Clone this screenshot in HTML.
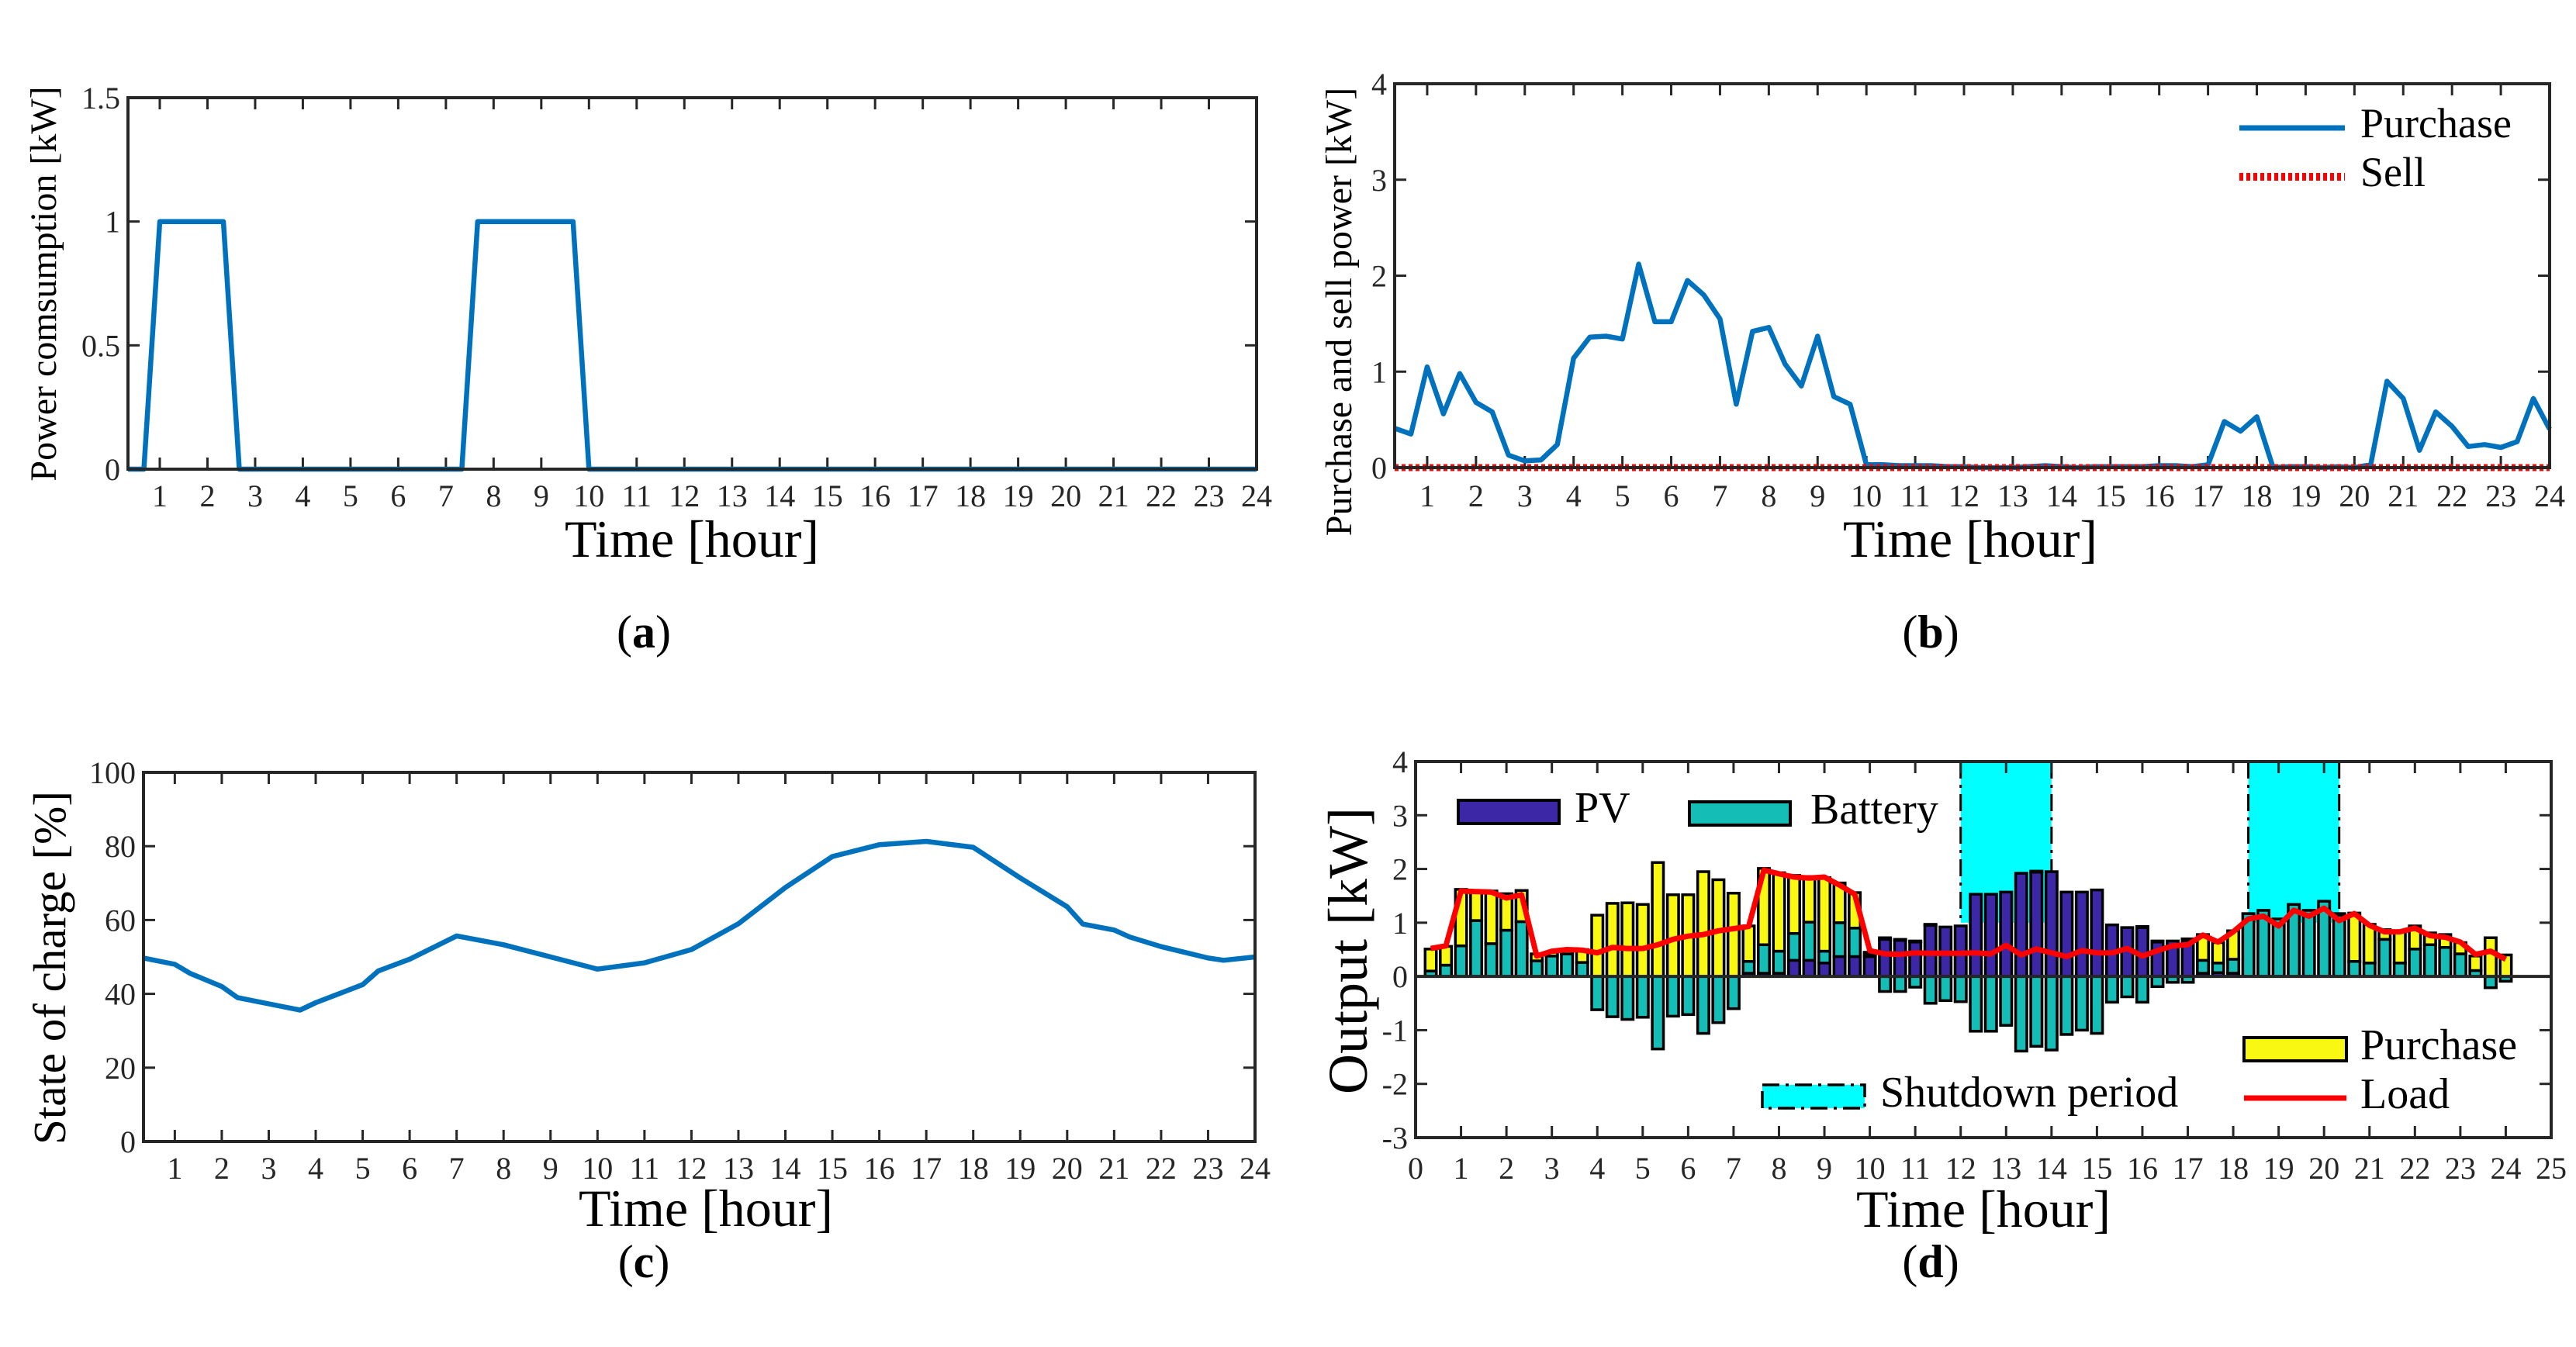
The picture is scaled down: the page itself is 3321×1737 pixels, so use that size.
<!DOCTYPE html>
<html><head><meta charset="utf-8">
<style>
html,body{margin:0;padding:0;background:#fff;}
svg{display:block;font-family:"Liberation Serif","Times New Roman",serif;}
</style></head>
<body>
<svg id="fig" width="3321" height="1737" viewBox="0 0 3321 1737" xmlns="http://www.w3.org/2000/svg">
<rect x="0" y="0" width="3321" height="1737" fill="#fff"/>
<g id="pa"></g>
<g id="pb"></g>
<g id="pc"></g>
<g id="pd"></g>

<text x="892" y="718" font-size="68" text-anchor="middle">Time [hour]</text>
<text transform="translate(72,366) rotate(-90)" font-size="48" text-anchor="middle">Power comsumption [kW]</text>
<text x="2540" y="718" font-size="68" text-anchor="middle">Time [hour]</text>
<text transform="translate(1742,402) rotate(-90)" font-size="48" text-anchor="middle">Purchase and sell power [kW]</text>
<text x="910" y="1581" font-size="68" text-anchor="middle">Time [hour]</text>
<text transform="translate(84,1248) rotate(-90)" font-size="59" text-anchor="middle">State of charge [%]</text>
<text x="2557" y="1582" font-size="68" text-anchor="middle">Time [hour]</text>
<text transform="translate(1762,1226) rotate(-90)" font-size="72" text-anchor="middle">Output [kW]</text>

<text x="830" y="835" font-size="60" text-anchor="middle">(<tspan font-weight="bold">a</tspan>)</text>
<text x="2489" y="835" font-size="60" text-anchor="middle">(<tspan font-weight="bold">b</tspan>)</text>
<text x="830" y="1647" font-size="60" text-anchor="middle">(<tspan font-weight="bold">c</tspan>)</text>
<text x="2489" y="1647" font-size="60" text-anchor="middle">(<tspan font-weight="bold">d</tspan>)</text>

<g>
<line x1="2887" y1="165" x2="3023" y2="165" stroke="#0072BD" stroke-width="7"/>
<text x="3043" y="177" font-size="54">Purchase</text>
<line x1="2887" y1="228" x2="3023" y2="228" stroke="#FF0000" stroke-width="10" stroke-dasharray="5 4"/>
<text x="3043" y="240" font-size="54">Sell</text>
</g>
</svg>
<script>
var NS="http://www.w3.org/2000/svg";
var hours=[];for(var k=1;k<=72;k++){hours.push(k/3);}
var tickHours=[1,2,3,4,5,6,7,8,9,10,11,12,13,14,15,16,17,18,19,20,21,22,23,24];
var powerValues=[0,0,1,1,1,1,1,0,0,0,0,0,0,0,0,0,0,0,0,0,0,0,1,1,1,1,1,1,1,0,0,0,0,0,0,0,0,0,0,0,0,0,0,0,0,0,0,0,0,0,0,0,0,0,0,0,0,0,0,0,0,0,0,0,0,0,0,0,0,0,0,0];
var powerYTicks=[0,0.5,1,1.5];
var powerYLabels=["0","0.5","1","1.5"];
var purchaseValues=[0.41,0.35,1.05,0.56,0.98,0.68,0.58,0.13,0.07,0.08,0.24,1.14,1.36,1.37,1.34,2.12,1.52,1.52,1.95,1.8,1.55,0.66,1.42,1.46,1.08,0.85,1.37,0.74,0.66,0.03,
0.03,0.02,0.02,0.02,0.01,0.01,0,0,0,0.01,0.02,0.01,0,0.01,0.01,0.01,0.01,0.02,0.02,0.01,
0.03,0.48,0.38,0.53,0,0.01,0.01,0,0.01,0,0.03,0.9,0.72,0.18,0.58,0.43,0.22,0.24,0.21,0.27,0.72,0.4];
var sellValues=[0,0,0,0,0,0,0,0,0,0,0,0,0,0,0,0,0,0,0,0,0,0,0,0,0,0,0,0,0,0,0,0,0,0,0,0,0,0,0,0,0,0,0,0,0,0,0,0,0,0,0,0,0,0,0,0,0,0,0,0,0,0,0,0,0,0,0,0,0,0,0,0];
var bYTicks=[0,1,2,3,4];
var socHours=[0.333,1,1.333,2,2.333,3,3.667,4,5,5.333,6,7,8,9,10,11,12,13,14,15,16,17,18,19,20,20.333,21,21.333,22,23,23.333,24];
var socValues=[49.7,48,45.5,42,39,37.3,35.6,37.6,42.5,46.2,49.4,55.7,53.3,50,46.7,48.4,52,59,68.8,77.2,80.4,81.3,79.7,71.4,63.6,58.9,57.3,55.4,52.8,49.7,49.1,50];
var socYTicks=[0,20,40,60,80,100];
var pvValues=[0,0,0,0,0,0,0,0,0,0,0,0,0,0,0,0,0,0,0,0,0,0.06,0.06,0.06,0.3,0.3,0.25,0.37,0.37,0.37,0.69,0.67,0.64,0.95,0.92,0.94,1.53,1.53,1.57,1.92,1.94,1.95,1.57,1.57,1.61,0.96,0.91,0.91,0.64,0.66,0.67,0.06,0.07,0.06,0,0,0,0,0,0,0,0,0,0,0,0,0,0,0,0,0,0];
var batteryValues=[0.1,0.21,0.57,1.04,0.61,0.86,1.02,0.29,0.38,0.42,0.26,-0.62,-0.75,-0.8,-0.76,-1.35,-0.74,-0.71,-1.06,-0.86,-0.6,0.22,0.53,0.41,0.5,0.71,0.22,0.63,0.53,0.05,-0.28,-0.28,-0.2,-0.5,-0.45,-0.47,-1.02,-1.02,-0.91,-1.39,-1.3,-1.37,-1.08,-1.0,-1.06,-0.48,-0.38,-0.48,-0.19,-0.11,-0.11,0.24,0.18,0.26,1.17,1.23,1.07,1.34,1.23,1.4,1.14,0.28,0.25,0.69,0.25,0.51,0.59,0.54,0.42,0.11,-0.21,-0.09];
var loadValues=[0.52,0.57,1.59,1.58,1.57,1.46,1.52,0.38,0.47,0.5,0.49,
0.44,0.54,0.52,0.52,0.59,0.69,0.75,0.78,0.85,0.89,0.93,1.98,1.91,1.85,1.83,1.85,1.7,1.53,0.48,0.42,0.41,0.44,0.43,0.43,0.43,0.44,
0.42,0.58,0.4,0.51,0.44,0.37,0.48,0.44,0.44,0.52,0.38,0.48,0.57,0.59,0.77,0.64,0.83,1.07,1.12,0.94,1.23,1.12,1.27,1.04,1.17,0.95,0.83,0.83,0.9,0.76,0.73,0.64,0.41,0.47,0.32];
var shutdownStart=[12,18.333];
var shutdownEnd=[14,20.333];
var dXTicks=[0,1,2,3,4,5,6,7,8,9,10,11,12,13,14,15,16,17,18,19,20,21,22,23,24,25];
var dYTicks=[-3,-2,-1,0,1,2,3,4];

function mk(tag,attrs,parent){var e=document.createElementNS(NS,tag);for(var a in attrs){e.setAttribute(a,attrs[a]);}parent.appendChild(e);return e;}
function scale(d0,d1,r0,r1){return function(v){return r0+(v-d0)/(d1-d0)*(r1-r0);};}
function axes(g,c,name){
  var sx=scale(c.xmin,c.xmax,c.L,c.R), sy=scale(c.ymin,c.ymax,c.B,c.T);
  var i,el;
  for(i=0;i<c.xt.length;i++){
    var x=sx(c.xt[i]);
    el=mk('line',{x1:x,y1:c.B,x2:x,y2:c.B-15,stroke:'#262626','stroke-width':3},g);
    
    
    el=mk('line',{x1:x,y1:c.T,x2:x,y2:c.T+15,stroke:'#262626','stroke-width':3},g);
    
    
    el=mk('text',{x:x,y:c.tickY,'font-size':c.fs,'text-anchor':'middle',fill:'#262626'},g);
    el.textContent=String(c.xt[i]);
    
    
  }
  for(i=0;i<c.yt.length;i++){
    var y=sy(c.yt[i]);
    el=mk('line',{x1:c.L,y1:y,x2:c.L+15,y2:y,stroke:'#262626','stroke-width':3},g);
    
    
    el=mk('line',{x1:c.R,y1:y,x2:c.R-15,y2:y,stroke:'#262626','stroke-width':3},g);
    
    
    el=mk('text',{x:c.L-10,y:y+14,'font-size':c.fs,'text-anchor':'end',fill:'#262626'},g);
    el.textContent=c.ytl?c.ytl[i]:String(c.yt[i]);
    
    
  }
  return {sx:sx,sy:sy};
}
function box(g,c,name){
  var el=mk('rect',{x:c.L,y:c.T,width:c.R-c.L,height:c.B-c.T,fill:'none',stroke:'#262626','stroke-width':4},g);
  
  
}
function linePath(xs,ys,sx,sy){var d='';for(var i=0;i<xs.length;i++){d+=(i?'L':'M')+sx(xs[i]).toFixed(1)+','+sy(ys[i]).toFixed(1);}return d;}

(function(){
  var g=document.getElementById('pa');
  var c={L:165,R:1620,T:126,B:605,xmin:1/3,xmax:24,ymin:0,ymax:1.5,xt:tickHours,yt:powerYTicks,ytl:powerYLabels,tickY:653,fs:40};
  var s=axes(g,c,'panel-a');
  var p=mk('path',{d:linePath(hours,powerValues,s.sx,s.sy),fill:'none',stroke:'#0072BD','stroke-width':6.5,'stroke-linejoin':'round'},g);
  
  
  box(g,c,'panel-a');
})();

(function(){
  var g=document.getElementById('pb');
  var c={L:1798,R:3287,T:108,B:603,xmin:1/3,xmax:24,ymin:0,ymax:4,xt:tickHours,yt:bYTicks,tickY:653,fs:40};
  var s=axes(g,c,'panel-b');
  var p=mk('path',{d:linePath(hours,purchaseValues,s.sx,s.sy),fill:'none',stroke:'#0072BD','stroke-width':6.5,'stroke-linejoin':'round'},g);
  
  
  var q=mk('path',{d:linePath(hours,sellValues,s.sx,s.sy),fill:'none',stroke:'#FF0000','stroke-width':9,'stroke-dasharray':'5 4'},g);
  
  
  box(g,c,'panel-b');
})();

(function(){
  var g=document.getElementById('pc');
  var c={L:185,R:1618,T:996,B:1472,xmin:1/3,xmax:24,ymin:0,ymax:100,xt:tickHours,yt:socYTicks,tickY:1520,fs:40};
  var s=axes(g,c,'panel-c');
  var p=mk('path',{d:linePath(socHours,socValues,s.sx,s.sy),fill:'none',stroke:'#0072BD','stroke-width':6.5,'stroke-linejoin':'round'},g);
  
  
  box(g,c,'panel-c');
})();

(function(){
  var g=document.getElementById('pd');
  var c={L:1825,R:3289,T:982,B:1467,xmin:0,xmax:25,ymin:-3,ymax:4,xt:dXTicks,yt:dYTicks,tickY:1520,fs:40};
  var sx=scale(c.xmin,c.xmax,c.L,c.R), sy=scale(c.ymin,c.ymax,c.B,c.T);
  var i,el;
  for(i=0;i<shutdownStart.length;i++){
    var x0=sx(shutdownStart[i]),x1=sx(shutdownEnd[i]);
    el=mk('rect',{x:x0,y:c.T,width:x1-x0,height:sy(1)-c.T,fill:'#00FFFF'},g);
    
    
    el=mk('line',{x1:x0,y1:c.T,x2:x0,y2:sy(1),stroke:'#000','stroke-width':3,'stroke-dasharray':'22 8 4 8'},g);
    
    
    el=mk('line',{x1:x1,y1:c.T,x2:x1,y2:sy(1),stroke:'#000','stroke-width':3,'stroke-dasharray':'22 8 4 8'},g);
    
    
  }
  var s=axes(g,c,'panel-d');
  var bw=(sx(1/3)-sx(0))*0.74;
  function seg(xc,a,b,fill,name){
    var y0=sy(Math.max(a,b)),y1=sy(Math.min(a,b));
    var r=mk('rect',{x:xc-bw/2,y:y0,width:bw,height:Math.max(y1-y0,0.5),fill:fill,stroke:'#000','stroke-width':3.5},g);
    
    
  }
  for(i=0;i<hours.length;i++){
    var xc=sx(hours[i]);var base=0;
    if(pvValues[i]>0){seg(xc,base,base+pvValues[i],'#3C28A6','bar-pv');base+=pvValues[i];}
    if(batteryValues[i]>0){seg(xc,base,base+batteryValues[i],'#14BDB5','bar-battery');base+=batteryValues[i];}
    else if(batteryValues[i]<0){seg(xc,0,batteryValues[i],'#14BDB5','bar-battery-charge');}
    if(purchaseValues[i]>0.015){seg(xc,base,base+purchaseValues[i],'#F8F812','bar-purchase');}
  }
  el=mk('line',{x1:c.L,y1:sy(0),x2:c.R,y2:sy(0),stroke:'#262626','stroke-width':4},g);
  
  
  var p=mk('path',{d:linePath(hours,loadValues,sx,sy),fill:'none',stroke:'#FF0000','stroke-width':7,'stroke-linejoin':'round'},g);
  
  
  box(g,c,'panel-d');
})();

(function(){
  var svg=document.getElementById('fig');
  var g=document.createElementNS(NS,'g');
  
  
  svg.appendChild(g);
  g.innerHTML=
  '<rect x="1880" y="1032" width="130" height="30" fill="#3C28A6" stroke="#000" stroke-width="4"/>'+
  '<text x="2030" y="1060" font-size="56">PV</text>'+
  '<rect x="2178" y="1034" width="130" height="30" fill="#14BDB5" stroke="#000" stroke-width="4"/>'+
  '<text x="2334" y="1062" font-size="56">Battery</text>'+
  '<rect x="2893" y="1338" width="132" height="30" fill="#F8F812" stroke="#000" stroke-width="4"/>'+
  '<text x="3043" y="1366" font-size="56">Purchase</text>'+
  '<rect x="2272" y="1399" width="132" height="30" fill="#00FFFF" stroke="#000" stroke-width="3.5" stroke-dasharray="22 8 4 8"/>'+
  '<text x="2424" y="1427" font-size="56">Shutdown period</text>'+
  '<line x1="2893" y1="1416" x2="3025" y2="1416" stroke="#FF0000" stroke-width="7"/>'+
  '<text x="3043" y="1429" font-size="56">Load</text>';
})();
</script>
</body></html>
